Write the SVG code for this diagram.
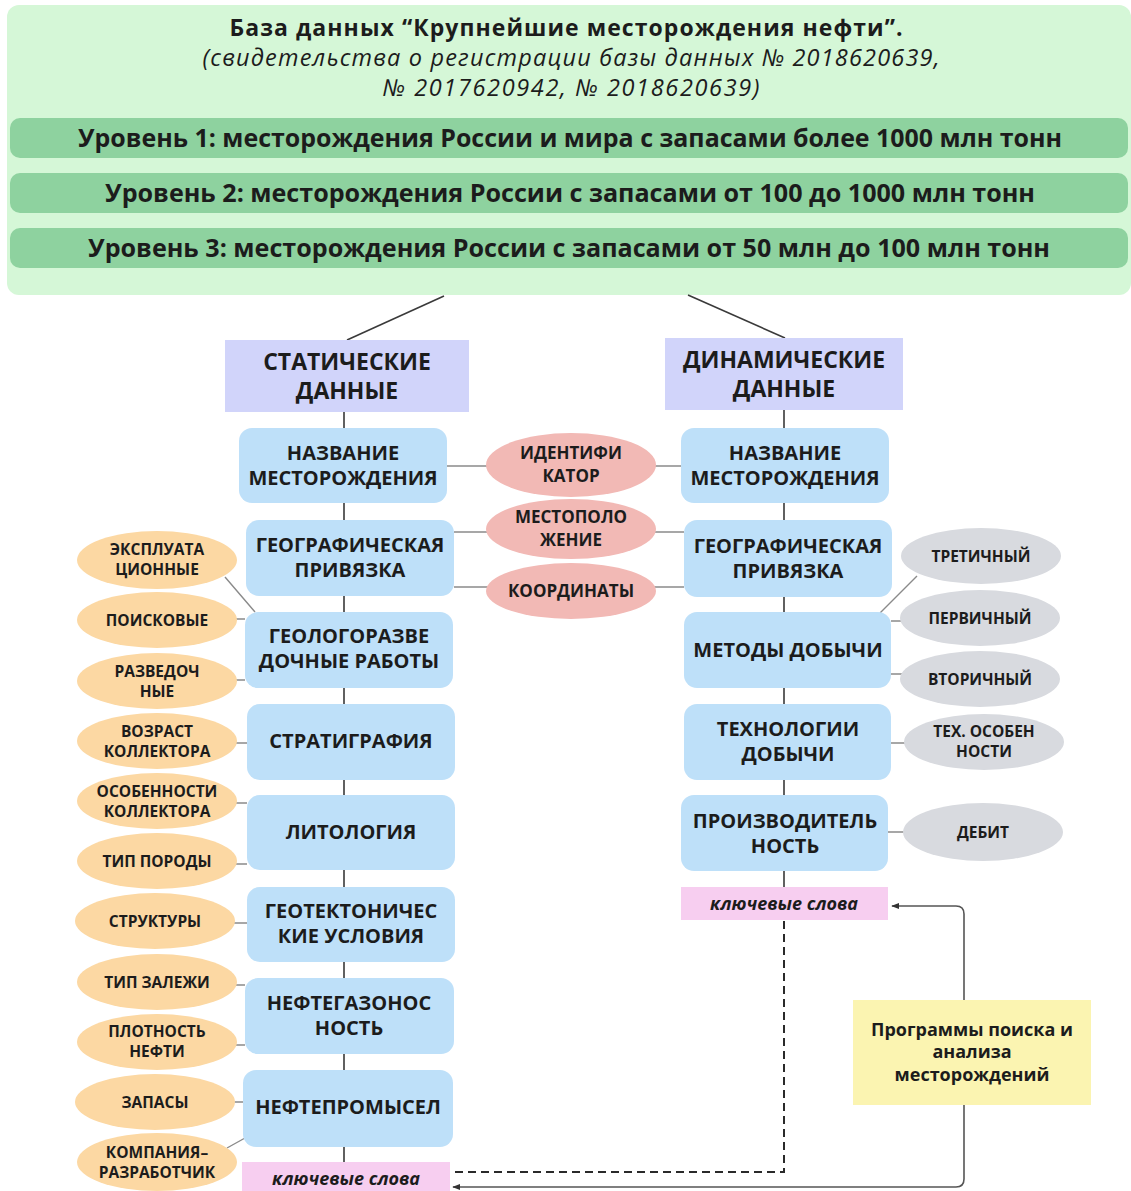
<svg xmlns="http://www.w3.org/2000/svg" width="1131" height="1191" viewBox="0 0 1131 1191">
<defs>
<style>
.t{font-family:"Open Sans","Noto Sans","DejaVu Sans",sans-serif;fill:#1c1c1c;text-anchor:middle}
.b{font-weight:700}
.n{font-size:20px;font-weight:700}
.e{font-size:15.5px;font-weight:700}
.m{font-size:17px;font-weight:700}
.lv{font-size:25px;font-weight:700}
.it{font-size:23.5px;font-style:italic;font-weight:400}
.kw{font-size:18px;font-style:italic;font-weight:700}
.box{fill:#bee0f9}
.hd{fill:#d1d4fa}
.org{fill:#fcd8a3}
.pnk{fill:#f2b9b5}
.gry{fill:#d8dadf}
.kwb{fill:#f7cef0}
.ln{stroke:#3a3a3a;stroke-width:1.6;fill:none}
.lg{stroke:#8a8a8a;stroke-width:1.4;fill:none}
.dash{stroke:#2a2a2a;stroke-width:2;stroke-dasharray:8 5;fill:none}
.sol{stroke:#555;stroke-width:1.6;fill:none}
</style>
<marker id="arr" viewBox="0 0 10 10" refX="9" refY="5" markerWidth="5" markerHeight="5" orient="auto">
<path d="M0,1 L10,5 L0,9 z" fill="#333"/>
</marker>
</defs>
<rect width="1131" height="1191" fill="#ffffff"/>

<g id="header">
<rect x="7" y="5" width="1124" height="290" rx="12" fill="#d5f7d7"/>
<text class="t b" x="566" y="36" font-size="23" textLength="673">База данных “Крупнейшие месторождения нефти”.</text>
<text class="t it" x="571" y="66" textLength="737">(свидетельства о регистрации базы данных № 2018620639,</text>
<text class="t it" x="571" y="96" textLength="377">№ 2017620942, № 2018620639)</text>
</g>
<g id="level1">
<rect x="10" y="118" width="1118" height="40" rx="10" fill="#8ed29f"/>
<text class="t lv" x="570" y="147" textLength="984" lengthAdjust="spacingAndGlyphs">Уровень 1: месторождения России и мира с запасами более 1000 млн тонн</text>
</g>
<g id="level2">
<rect x="10" y="173" width="1118" height="40" rx="10" fill="#8ed29f"/>
<text class="t lv" x="570" y="202" textLength="930" lengthAdjust="spacingAndGlyphs">Уровень 2: месторождения России с запасами от 100 до 1000 млн тонн</text>
</g>
<g id="level3">
<rect x="10" y="228" width="1118" height="40" rx="10" fill="#8ed29f"/>
<text class="t lv" x="569" y="257" textLength="962" lengthAdjust="spacingAndGlyphs">Уровень 3: месторождения России с запасами от 50 млн до 100 млн тонн</text>
</g>

<g id="connectors">
<line class="ln" x1="444" y1="296" x2="347" y2="340"/>
<line class="ln" x1="688" y1="295" x2="785" y2="338"/>
<path class="ln" d="M344,412V428M344,503V520M344,596V612M344,688V704M344,780V795M344,870V887M344,962V978M344,1054V1070M344,1147V1162"/>
<path class="ln" d="M784,410V428M784,503V520M784,597V612M784,688V704M784,780V795M784,871V887"/>
<path class="lg" d="M447,466H490M652,466H681M454,532H492M650,532H684M454,587H492M650,587H684"/>
<path class="lg" d="M225,577L255,612M235,619H245M235,680H245M235,743H247M235,803H247M235,864H247M233,923H247M235,985H245M235,1045H245M233,1102H243M227,1148L245,1138"/>
<path class="lg" d="M880,613L917,576M891,621H902M891,674H902M891,743H906M888,832H904"/>
<path class="dash" d="M784,921V1172H452"/>
<path class="sol" d="M964,1000V914Q964,906 956,906H892" marker-end="url(#arr)"/>
<path class="sol" d="M964,1105V1179Q964,1187 956,1187H453" marker-end="url(#arr)"/>
</g>

<g id="static">
<rect class="hd" x="225" y="340" width="244" height="72"/>
<text class="t b" font-size="23" x="347" y="370">СТАТИЧЕСКИЕ</text>
<text class="t b" font-size="23" x="347" y="399">ДАННЫЕ</text>
</g>
<g id="dynamic">
<rect class="hd" x="665" y="338" width="238" height="72"/>
<text class="t b" font-size="23" x="784" y="368">ДИНАМИЧЕСКИЕ</text>
<text class="t b" font-size="23" x="784" y="397">ДАННЫЕ</text>
</g>

<g id="s-name"><rect class="box" x="239" y="428" width="208" height="75" rx="13"/>
<text class="t n" x="343" y="460">НАЗВАНИЕ</text><text class="t n" x="343" y="485">МЕСТОРОЖДЕНИЯ</text></g>
<g id="s-geo"><rect class="box" x="246" y="520" width="208" height="76" rx="13"/>
<text class="t n" x="350" y="552">ГЕОГРАФИЧЕСКАЯ</text><text class="t n" x="350" y="577">ПРИВЯЗКА</text></g>
<g id="s-gr"><rect class="box" x="245" y="612" width="208" height="76" rx="13"/>
<text class="t n" x="349" y="643">ГЕОЛОГОРАЗВЕ</text><text class="t n" x="349" y="668">ДОЧНЫЕ РАБОТЫ</text></g>
<g id="s-strat"><rect class="box" x="247" y="704" width="208" height="76" rx="13"/>
<text class="t n" x="351" y="748">СТРАТИГРАФИЯ</text></g>
<g id="s-lito"><rect class="box" x="247" y="795" width="208" height="75" rx="13"/>
<text class="t n" x="351" y="839">ЛИТОЛОГИЯ</text></g>
<g id="s-tect"><rect class="box" x="247" y="887" width="208" height="75" rx="13"/>
<text class="t n" x="351" y="918">ГЕОТЕКТОНИЧЕС</text><text class="t n" x="351" y="943">КИЕ УСЛОВИЯ</text></g>
<g id="s-ng"><rect class="box" x="245" y="978" width="209" height="76" rx="13"/>
<text class="t n" x="349" y="1010">НЕФТЕГАЗОНОС</text><text class="t n" x="349" y="1035">НОСТЬ</text></g>
<g id="s-prom"><rect class="box" x="243" y="1070" width="210" height="77" rx="13"/>
<text class="t n" x="348" y="1114">НЕФТЕПРОМЫСЕЛ</text></g>
<g id="s-kw"><rect class="kwb" x="242" y="1162" width="208" height="34"/>
<text class="t kw" x="346" y="1185">ключевые слова</text></g>

<g id="d-name"><rect class="box" x="681" y="428" width="208" height="75" rx="13"/>
<text class="t n" x="785" y="460">НАЗВАНИЕ</text><text class="t n" x="785" y="485">МЕСТОРОЖДЕНИЯ</text></g>
<g id="d-geo"><rect class="box" x="684" y="520" width="208" height="77" rx="13"/>
<text class="t n" x="788" y="553">ГЕОГРАФИЧЕСКАЯ</text><text class="t n" x="788" y="578">ПРИВЯЗКА</text></g>
<g id="d-met"><rect class="box" x="684" y="612" width="207" height="76" rx="13"/>
<text class="t n" x="788" y="657">МЕТОДЫ ДОБЫЧИ</text></g>
<g id="d-tech"><rect class="box" x="684" y="704" width="207" height="76" rx="13"/>
<text class="t n" x="788" y="736">ТЕХНОЛОГИИ</text><text class="t n" x="788" y="761">ДОБЫЧИ</text></g>
<g id="d-prod"><rect class="box" x="681" y="795" width="207" height="76" rx="13"/>
<text class="t n" x="785" y="828">ПРОИЗВОДИТЕЛЬ</text><text class="t n" x="785" y="853">НОСТЬ</text></g>
<g id="d-kw"><rect class="kwb" x="681" y="887" width="207" height="33"/>
<text class="t kw" x="784" y="910">ключевые слова</text></g>

<g id="m-id"><ellipse class="pnk" cx="571" cy="465" rx="85" ry="32"/>
<text class="t m" x="571" y="459">ИДЕНТИФИ</text><text class="t m" x="571" y="482">КАТОР</text></g>
<g id="m-loc"><ellipse class="pnk" cx="571" cy="529" rx="85" ry="30"/>
<text class="t m" x="571" y="523">МЕСТОПОЛО</text><text class="t m" x="571" y="546">ЖЕНИЕ</text></g>
<g id="m-coord"><ellipse class="pnk" cx="571" cy="591" rx="85" ry="28"/>
<text class="t m" x="571" y="597">КООРДИНАТЫ</text></g>

<g id="o1"><ellipse class="org" cx="157" cy="560" rx="80" ry="29"/>
<text class="t e" x="157" y="555">ЭКСПЛУАТА</text><text class="t e" x="157" y="575">ЦИОННЫЕ</text></g>
<g id="o2"><ellipse class="org" cx="157" cy="620" rx="80" ry="28"/>
<text class="t e" x="157" y="626">ПОИСКОВЫЕ</text></g>
<g id="o3"><ellipse class="org" cx="157" cy="681" rx="80" ry="28"/>
<text class="t e" x="157" y="677">РАЗВЕДОЧ</text><text class="t e" x="157" y="697">НЫЕ</text></g>
<g id="o4"><ellipse class="org" cx="157" cy="741" rx="80" ry="28"/>
<text class="t e" x="157" y="737">ВОЗРАСТ</text><text class="t e" x="157" y="757">КОЛЛЕКТОРА</text></g>
<g id="o5"><ellipse class="org" cx="157" cy="801" rx="80" ry="28"/>
<text class="t e" x="157" y="797">ОСОБЕННОСТИ</text><text class="t e" x="157" y="817">КОЛЛЕКТОРА</text></g>
<g id="o6"><ellipse class="org" cx="157" cy="861" rx="80" ry="28"/>
<text class="t e" x="157" y="867">ТИП ПОРОДЫ</text></g>
<g id="o7"><ellipse class="org" cx="155" cy="921" rx="80" ry="28"/>
<text class="t e" x="155" y="927">СТРУКТУРЫ</text></g>
<g id="o8"><ellipse class="org" cx="157" cy="982" rx="80" ry="28"/>
<text class="t e" x="157" y="988">ТИП ЗАЛЕЖИ</text></g>
<g id="o9"><ellipse class="org" cx="157" cy="1042" rx="80" ry="28"/>
<text class="t e" x="157" y="1037">ПЛОТНОСТЬ</text><text class="t e" x="157" y="1057">НЕФТИ</text></g>
<g id="o10"><ellipse class="org" cx="155" cy="1102" rx="80" ry="28"/>
<text class="t e" x="155" y="1108">ЗАПАСЫ</text></g>
<g id="o11"><ellipse class="org" cx="157" cy="1162" rx="80" ry="29"/>
<text class="t e" x="157" y="1158">КОМПАНИЯ–</text><text class="t e" x="157" y="1178">РАЗРАБОТЧИК</text></g>

<g id="g1"><ellipse class="gry" cx="981" cy="556" rx="80" ry="28"/>
<text class="t e" x="981" y="562">ТРЕТИЧНЫЙ</text></g>
<g id="g2"><ellipse class="gry" cx="980" cy="618" rx="80" ry="28"/>
<text class="t e" x="980" y="624">ПЕРВИЧНЫЙ</text></g>
<g id="g3"><ellipse class="gry" cx="980" cy="679" rx="80" ry="28"/>
<text class="t e" x="980" y="685">ВТОРИЧНЫЙ</text></g>
<g id="g4"><ellipse class="gry" cx="984" cy="742" rx="80" ry="28"/>
<text class="t e" x="984" y="737">ТЕХ. ОСОБЕН</text><text class="t e" x="984" y="757">НОСТИ</text></g>
<g id="g5"><ellipse class="gry" cx="983" cy="832" rx="80" ry="29"/>
<text class="t e" x="983" y="838">ДЕБИТ</text></g>

<g id="prog"><rect x="853" y="1000" width="238" height="105" fill="#fbf4b1"/>
<text class="t b" font-size="18" x="972" y="1036">Программы поиска и</text>
<text class="t b" font-size="18" x="972" y="1058">анализа</text>
<text class="t b" font-size="18" x="972" y="1081">месторождений</text></g>
</svg>
